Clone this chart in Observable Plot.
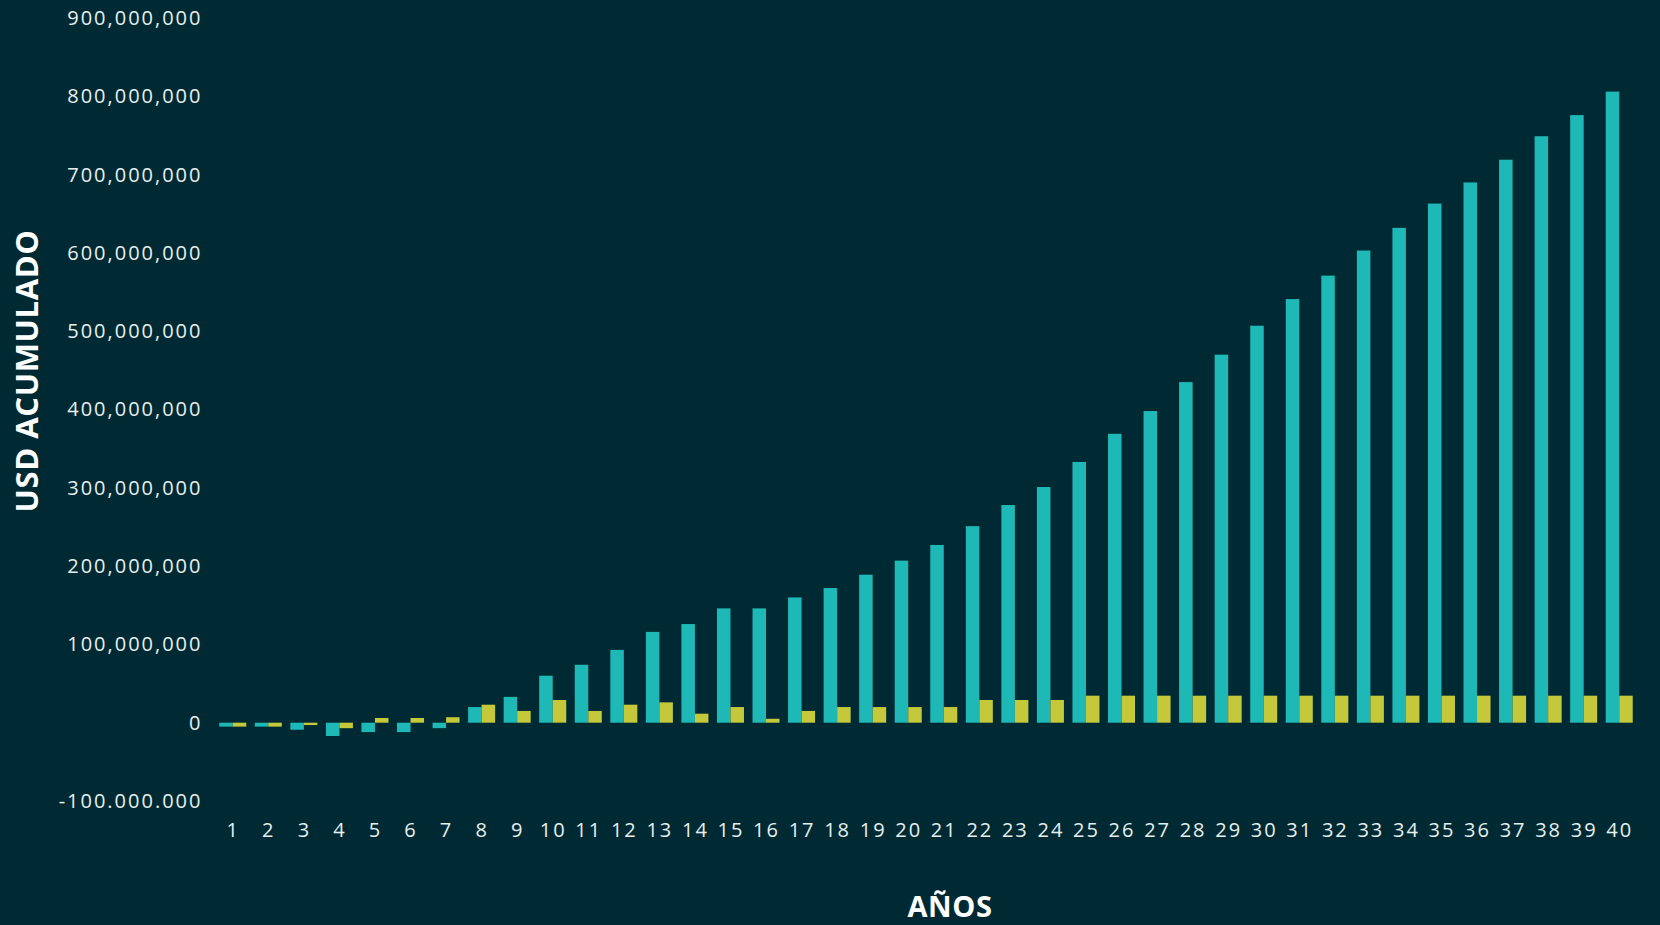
<!DOCTYPE html>
<html>
<head>
<meta charset="utf-8">
<script src="https://cdn.jsdelivr.net/npm/d3@7"></script>
<script src="https://cdn.jsdelivr.net/npm/@observablehq/plot@0.6"></script>
<style>
  html, body { margin: 0; padding: 0; background: #002a33; }
  #wrap { position: relative; width: 1660px; height: 925px; overflow: hidden; background: #002a33; }
  .title { position: absolute; color: #ffffff; font-family: "Open Sans", "Liberation Sans", sans-serif; font-weight: 700; white-space: nowrap; letter-spacing: 0.6px; line-height: 1; }
  #ytitle { left: 26px; top: 371px; font-size: 31px; transform: translate(-50%, -50%) rotate(-90deg); }
  #xtitle { left: 950px; top: 905px; font-size: 29px; transform: translate(-50%, -50%); }
</style>
</head>
<body>
<div id="wrap">
  <div id="chart"></div>
  <div class="title" id="ytitle">USD ACUMULADO</div>
  <div class="title" id="xtitle">AÑOS</div>
</div>
<script>
// Categories (years)
const years = [1,2,3,4,5,6,7,8,9,10,11,12,13,14,15,16,17,18,19,20,
               21,22,23,24,25,26,27,28,29,30,31,32,33,34,35,36,37,38,39,40];

// Series values in millions of USD
const serieTurquesa = [-5,-5,-9,-17,-12,-12,-7,20,33,60,74,93,116,126,146,146,160,172,189,207,
                       227,251,278,301,333,369,398,435,470,507,541,571,603,632,663,690,719,749,776,806];
const serieAmarilla = [-5,-5,-3,-7,6,6,7,23,15,29,15,23,26,11.5,20,5,15,20,20,20,
                       20,29,29,29,34.5,34.5,34.5,34.5,34.5,34.5,34.5,34.5,34.5,34.5,34.5,34.5,34.5,34.5,34.5,34.5];

// Y tick values and their labels (as printed)
const yTicks = [-100e6, 0, 100e6, 200e6, 300e6, 400e6, 500e6, 600e6, 700e6, 800e6, 900e6];
const yTickLabels = ["-100.000.000","0","100,000,000","200,000,000","300,000,000","400,000,000",
                     "500,000,000","600,000,000","700,000,000","800,000,000","900,000,000"];

const colorTurquesa = "#1eb9b6";
const colorAmarilla = "#c4c83a";

const dataT = years.map((yr, i) => ({year: yr, value: serieTurquesa[i] * 1e6}));
const dataA = years.map((yr, i) => ({year: yr, value: serieAmarilla[i] * 1e6}));

const W = 1660, ML = 215, MR = 23, PI = 0.24, PO = 0.12;
const step = (W - ML - MR) / (years.length - PI + 2 * PO);
const half = step * (1 - PI) / 2;

const chart = Plot.plot({
  width: W,
  height: 925,
  marginTop: 18,
  marginBottom: 124,
  marginLeft: ML,
  marginRight: MR,
  style: {
    background: "transparent",
    color: "#e8eeee",
    fontFamily: "'Open Sans', 'Liberation Sans', sans-serif",
    fontSize: "20px",
    letterSpacing: "2px"
  },
  x: {domain: years, paddingInner: PI, paddingOuter: PO, round: false, label: null},
  y: {domain: [-100e6, 900e6], label: null},
  marks: [
    Plot.axisY({
      ticks: yTicks,
      tickFormat: d => yTickLabels[yTicks.indexOf(d)],
      tickSize: 0,
      tickPadding: 13,
      label: null,
      fontSize: 20
    }),
    Plot.axisX({anchor: "bottom", tickSize: 0, tickPadding: 21, label: null, fontSize: 20}),
    Plot.barY(dataT, {x: "year", y: "value", fill: colorTurquesa, insetRight: half}),
    Plot.barY(dataA, {x: "year", y: "value", fill: colorAmarilla, insetLeft: half})
  ]
});
document.getElementById("chart").appendChild(chart);
</script>
</body>
</html>
